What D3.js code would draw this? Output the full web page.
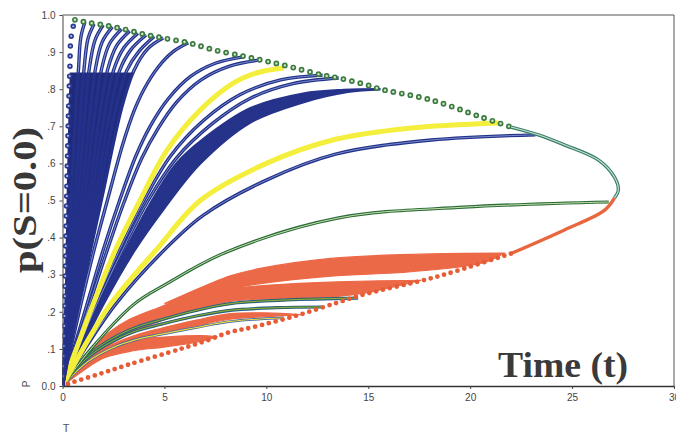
<!DOCTYPE html>
<html>
<head>
<meta charset="utf-8">
<script src="https://cdn.jsdelivr.net/npm/d3@7"></script>
<style>
  body { margin: 0; background: #fff; }
  svg { display: block; }
</style>
</head>
<body>
<div id="chart"></div>
<script>
// ---- data: [time, p] ----
const xTicks = [0, 5, 10, 15, 20, 25, 30];
const yTicks = [0, 0.1, 0.2, 0.3, 0.4, 0.5, 0.6, 0.7, 0.8, 0.9, 1.0];
const yTickLabels = ["0.0", ".1", ".2", ".3", ".4", ".5", ".6", ".7", ".8", ".9", "1.0"];

// envelope (upper dotted green part, solid bend, red dotted lower part)
const envTop = [[0.61,0.987],[1.1,0.981],[2.0,0.973],[3.0,0.962],[4.0,0.948],[4.94,0.938],[6.17,0.925],
  [7.5,0.905],[8.88,0.889],[9.71,0.879],[10.84,0.865],[12.76,0.838],[13.55,0.830],[14.96,0.811],
  [15.62,0.80],[18.08,0.771],[20.54,0.725],[22.0,0.698]];
const envBend = [[22.0,0.698],[23.34,0.677],[24.62,0.650],[26.3,0.609],[27.08,0.563],[27.27,0.528],[27.08,0.507]];
const envBendRed = [[27.08,0.507],[26.6,0.474],[24.6,0.42],[22.0,0.357]];
const envRed = [[22.0,0.357],[18.9,0.303],[17.7,0.285],[14.8,0.247],[13.5,0.225],[11.5,0.19],[9.3,0.158],
  [8.2,0.145],[7.1,0.123],[5.8,0.1],[3.2,0.057],[1.85,0.033],[0.5,0.01],[0,0]];

// blue fan of fast curves (first one is dotted)
const fanDotted = [[0,0],[0.1,0.22],[0.2,0.5],[0.3,0.75],[0.36,0.85],[0.42,0.94],[0.61,0.987]];
const fanCurves = [
  [[0,0],[0.18,0.22],[0.42,0.5],[0.65,0.75],[0.78,0.85],[0.9,0.94],[1.1,0.981]],
  [[0,0],[0.25,0.22],[0.6,0.5],[0.9,0.75],[1.05,0.85],[1.25,0.936],[1.55,0.976]],
  [[0,0],[0.32,0.22],[0.75,0.5],[1.12,0.75],[1.3,0.85],[1.6,0.933],[2.0,0.973]],
  [[0,0],[0.4,0.22],[0.92,0.5],[1.38,0.75],[1.6,0.85],[1.95,0.928],[2.45,0.968]],
  [[0,0],[0.47,0.22],[1.08,0.5],[1.62,0.75],[1.9,0.85],[2.3,0.922],[2.9,0.962]],
  [[0,0],[0.54,0.22],[1.25,0.5],[1.88,0.75],[2.2,0.85],[2.65,0.917],[3.3,0.957]],
  [[0,0],[0.6,0.22],[1.4,0.5],[2.12,0.75],[2.5,0.85],[3.0,0.911],[3.7,0.951]],
  [[0,0],[0.68,0.22],[1.57,0.5],[2.37,0.75],[2.8,0.85],[3.35,0.906],[4.1,0.946]],
  [[0,0],[0.74,0.22],[1.73,0.5],[2.62,0.75],[3.15,0.85],[3.75,0.902],[4.5,0.942]],
  [[0,0],[0.8,0.22],[1.9,0.5],[2.9,0.75],[3.5,0.85],[4.2,0.91],[4.94,0.938]]
];
// slower blue curves
const blueCurves = [
  [[0,0],[0.4,0.1],[0.9,0.22],[1.55,0.367],[2.2,0.5],[2.95,0.65],[3.5,0.74],[4.0,0.8],[4.7,0.86],[5.4,0.9],[6.17,0.925]],
  [[0,0],[0.55,0.1],[1.2,0.22],[2.0,0.367],[2.8,0.5],[3.6,0.62],[4.3,0.7],[5.2,0.775],[6.3,0.835],[7.5,0.87],[8.88,0.887]],
  [[0,0],[0.6,0.1],[1.32,0.22],[2.2,0.367],[3.05,0.5],[3.9,0.615],[4.7,0.695],[5.6,0.765],[6.8,0.825],[8.2,0.862],[9.71,0.879]],
  [[0,0],[0.72,0.1],[1.6,0.22],[2.8,0.367],[4.0,0.5],[5.3,0.62],[6.9,0.715],[8.7,0.785],[10.7,0.825],[12.76,0.838]],
  [[0,0],[0.75,0.1],[1.68,0.22],[2.95,0.367],[4.2,0.5],[5.6,0.615],[7.3,0.705],[9.2,0.775],[11.3,0.815],[13.55,0.83]],
  [[0,0],[1.1,0.1],[2.6,0.22],[5.0,0.367],[6.9,0.46],[10,0.555],[13.4,0.625],[18.1,0.663],[23.2,0.677]]
];
const blueBandUpper = [[0,0],[0.78,0.1],[1.75,0.22],[3.1,0.367],[4.4,0.5],[5.6,0.6],[6.9,0.665],[9.2,0.748],[11.8,0.788],[13.8,0.798],[15.6,0.80]];
const blueBandLower = [[0,0],[0.9,0.1],[2.0,0.22],[3.55,0.367],[5.0,0.48],[6.76,0.6],[9.2,0.71],[11.8,0.765],[14,0.793],[15.6,0.80]];
const yellowCurves = [
  [[0,0],[0.68,0.1],[1.5,0.22],[2.6,0.367],[3.8,0.5],[5.13,0.636],[6.76,0.744],[8.4,0.817],[9.6,0.845],[10.85,0.857]],
  [[0,0],[1.0,0.1],[2.35,0.22],[4.6,0.367],[6.76,0.5],[10,0.6],[13.4,0.665],[17,0.695],[21.4,0.709]]
];
const greenCurve = [[0,0],[1.4,0.1],[3.5,0.22],[5.1,0.275],[8,0.36],[13.55,0.453],[19.7,0.482],[26.8,0.496]];

// red tongues: [upper, lower]
const redMain = [
  [[0,0],[1.3,0.095],[2.3,0.145],[3.2,0.177],[4.8,0.213],[5.6,0.23],[8.23,0.262],[13.15,0.28],[17.6,0.285]],
  [[0,0],[1.0,0.055],[2.3,0.11],[3.47,0.145],[4.8,0.175],[6.5,0.205],[8.23,0.228],[10.5,0.236],[13.15,0.24],[14.8,0.25],[17.6,0.285]]
];
const redTop = [
  [[5.0,0.222],[7.25,0.276],[8.23,0.297],[9.7,0.317],[13.15,0.344],[18.06,0.356],[21.65,0.358]],
  [[5.0,0.222],[7.25,0.25],[8.23,0.262],[9.7,0.276],[13.15,0.296],[17.1,0.308],[20.7,0.333],[21.65,0.358]]
];
const redMid = [
  [[0,0],[1.2,0.07],[2.5,0.113],[3.6,0.137],[4.8,0.155],[6.5,0.177],[8.23,0.195],[10,0.197],[11.7,0.192]],
  [[0,0],[1.2,0.066],[2.5,0.108],[3.6,0.128],[4.8,0.143],[6.5,0.162],[8.23,0.18],[10,0.187],[11.7,0.192]]
];
const redLow = [
  [[0,0],[1.0,0.065],[2.0,0.1],[3.47,0.124],[5,0.132],[6.76,0.136],[7.6,0.133]],
  [[0,0],[0.86,0.035],[2.0,0.075],[3.47,0.095],[5,0.105],[6.76,0.12],[7.6,0.133]]
];
const greenThin = [
  [[0,0],[1.2,0.08],[2.5,0.13],[3.6,0.158],[4.8,0.178],[6.5,0.203],[8.23,0.222],[11,0.232],[14.5,0.237]],
  [[0,0],[1.2,0.075],[2.5,0.122],[3.6,0.148],[4.8,0.166],[6.5,0.188],[8.23,0.204],[10.5,0.211],[12.7,0.213]]
];
const yellowThin = [[0,0],[1.2,0.064],[2.5,0.104],[3.6,0.125],[4.8,0.139],[6.5,0.157],[8.23,0.174],[10.85,0.184]];

// ---- drawing ----
const width = 676, height = 433;
const svg = d3.select("#chart").append("svg")
    .attr("width", width)
    .attr("height", height);

const x = d3.scaleLinear().domain([0, 30]).range([62.5, 674]);
const y = d3.scaleLinear().domain([0, 1]).range([386, 15]);

const line = d3.line()
    .x(d => x(d[0]))
    .y(d => y(d[1]))
    .curve(d3.curveCatmullRom.alpha(0.5));

function tongue(upper, lower) {
    return line(upper) + line(lower.slice().reverse()).replace("M", "L") + "Z";
}

const defs = svg.append("defs");
defs.append("clipPath").attr("id", "plot").append("rect")
    .attr("x", x(0)).attr("y", y(1))
    .attr("width", x(30) - x(0)).attr("height", y(0) - y(1));
defs.append("clipPath").attr("id", "low").append("rect")
    .attr("x", x(0)).attr("y", y(0.845))
    .attr("width", x(30) - x(0)).attr("height", y(0) - y(0.845));
defs.append("clipPath").attr("id", "high").append("rect")
    .attr("x", x(0)).attr("y", y(1))
    .attr("width", x(30) - x(0)).attr("height", y(0.845) - y(1));

const plot = svg.append("g").attr("clip-path", "url(#plot)");

// red tongues
const red = "#ec6947";
[redMain, redTop, redMid, redLow].forEach(b => {
    plot.append("path").attr("d", tongue(b[0], b[1])).attr("fill", red)
        .attr("stroke", red).attr("stroke-width", 1.2);
});

// thin lines among red
greenThin.forEach(c => {
    plot.append("path").attr("d", line(c)).attr("fill", "none")
        .attr("stroke", "#2f5fa0").attr("stroke-width", 3.2);
    plot.append("path").attr("d", line(c)).attr("fill", "none")
        .attr("stroke", "#2f6b35").attr("stroke-width", 2);
    plot.append("path").attr("d", line(c)).attr("fill", "none")
        .attr("stroke", "#d9dd55").attr("stroke-width", 0.6);
});
plot.append("path").attr("d", line(yellowThin)).attr("fill", "none")
    .attr("stroke", "#3558a8").attr("stroke-width", 2.6);
plot.append("path").attr("d", line(yellowThin)).attr("fill", "none")
    .attr("stroke", "#eadf3c").attr("stroke-width", 1.2);

// green main curve
plot.append("path").attr("d", line(greenCurve)).attr("fill", "none")
    .attr("stroke", "#2c6a3c").attr("stroke-width", 3.2);
plot.append("path").attr("d", line(greenCurve)).attr("fill", "none")
    .attr("stroke", "#c4e2a6").attr("stroke-width", 1);

// blue band
plot.append("path").attr("d", tongue(blueBandUpper, blueBandLower)).attr("fill", "#26338a")
    .attr("stroke", "#26338a").attr("stroke-width", 2.5);

// blue curves
const blueDark = "#24318a", blueLight = "#8ea4dc";
blueCurves.forEach(c => {
    plot.append("path").attr("d", line(c)).attr("fill", "none")
        .attr("stroke", blueDark).attr("stroke-width", 3.4);
    plot.append("path").attr("d", line(c)).attr("fill", "none")
        .attr("stroke", blueLight).attr("stroke-width", 0.8);
});

// yellow curves
yellowCurves.forEach(c => {
    plot.append("path").attr("d", line(c)).attr("fill", "none")
        .attr("stroke", "#f4ef3c").attr("stroke-width", 5);
});

// dense blue fan fill
const fanLast = fanCurves[fanCurves.length - 1];
plot.append("g").attr("clip-path", "url(#low)")
  .append("path").attr("d", tongue(fanDotted, fanLast)).attr("fill", "#1f2b7a");

fanCurves.forEach(c => {
    plot.append("path").attr("d", line(c)).attr("fill", "none")
        .attr("stroke", blueDark).attr("stroke-width", 3.4);
    plot.append("g").attr("clip-path", "url(#high)")
      .append("path").attr("d", line(c)).attr("fill", "none")
        .attr("stroke", blueLight).attr("stroke-width", 0.9);
});

// dotted first curve (hollow blue circles)
plot.append("path").attr("d", line(fanDotted)).attr("fill", "none")
    .attr("stroke", "#2a3892").attr("stroke-width", 5.5)
    .attr("stroke-linecap", "round").attr("stroke-dasharray", "0 10");
plot.append("path").attr("d", line(fanDotted)).attr("fill", "none")
    .attr("stroke", "#a9b9e6").attr("stroke-width", 2.2)
    .attr("stroke-linecap", "round").attr("stroke-dasharray", "0 10");

// envelope: green hollow circles
plot.append("path").attr("d", line(envTop)).attr("fill", "none")
    .attr("stroke", "#3c7a44").attr("stroke-width", 5.8)
    .attr("stroke-linecap", "round").attr("stroke-dasharray", "0 8.6");
plot.append("path").attr("d", line(envTop)).attr("fill", "none")
    .attr("stroke", "#d6ebbf").attr("stroke-width", 2.4)
    .attr("stroke-linecap", "round").attr("stroke-dasharray", "0 8.6");

// envelope bend (dense, looks solid)
plot.append("path").attr("d", line(envBend)).attr("fill", "none")
    .attr("stroke", "#3b7c6a").attr("stroke-width", 3.4);
plot.append("path").attr("d", line(envBend)).attr("fill", "none")
    .attr("stroke", "#c3e4d2").attr("stroke-width", 1.1);
plot.append("path").attr("d", line(envBendRed)).attr("fill", "none")
    .attr("stroke", "#e8673f").attr("stroke-width", 3.4);

// envelope: red dots
plot.append("path").attr("d", line(envRed)).attr("fill", "none")
    .attr("stroke", "#e65c36").attr("stroke-width", 4.8)
    .attr("stroke-linecap", "round").attr("stroke-dasharray", "0 7");

// ---- axes and frame ----
const axisFont = "'Liberation Sans', Arial, sans-serif";

const yAxis = svg.append("g")
    .attr("transform", `translate(${x(0)},0)`)
    .call(d3.axisLeft(y).tickValues(yTicks).tickFormat((d, i) => yTickLabels[i])
        .tickSize(3).tickSizeOuter(0).tickPadding(4));
yAxis.selectAll("text").style("font-family", axisFont).style("font-size", "10px").attr("fill", "#444");
yAxis.selectAll("line, path").attr("stroke", "#444");

const xAxis = svg.append("g")
    .attr("transform", `translate(0,${y(0)})`)
    .call(d3.axisBottom(x).tickValues(xTicks).tickFormat(d3.format("d"))
        .tickSize(3).tickSizeOuter(0).tickPadding(5));
xAxis.selectAll("text").style("font-family", axisFont).style("font-size", "10px").attr("fill", "#444");
xAxis.selectAll("line").attr("stroke", "#444");
xAxis.select("path").attr("stroke", "#333").attr("stroke-width", 1.6);

// top and right frame
svg.append("line")
    .attr("x1", x(0)).attr("x2", x(30)).attr("y1", y(1)).attr("y2", y(1))
    .attr("stroke", "#555").attr("stroke-width", 1);
svg.append("line")
    .attr("x1", x(30)).attr("x2", x(30)).attr("y1", y(1)).attr("y2", y(0))
    .attr("stroke", "#555").attr("stroke-width", 1);

// titles
svg.append("text")
    .attr("transform", "translate(36,200) rotate(-90)")
    .attr("text-anchor", "middle")
    .attr("textLength", 146).attr("lengthAdjust", "spacingAndGlyphs")
    .style("font-family", "'Liberation Serif', 'Times New Roman', serif")
    .style("font-weight", "bold").style("font-size", "33px")
    .attr("fill", "#383838")
    .text("p(S=0.0)");

svg.append("text")
    .attr("x", 498).attr("y", 377)
    .attr("textLength", 130).attr("lengthAdjust", "spacingAndGlyphs")
    .style("font-family", "'Liberation Serif', 'Times New Roman', serif")
    .style("font-weight", "bold").style("font-size", "36px")
    .attr("fill", "#3a3a3a")
    .text("Time (t)");

svg.append("text")
    .attr("transform", "translate(30,384) rotate(-90)")
    .attr("text-anchor", "middle")
    .style("font-family", axisFont).style("font-size", "10px")
    .attr("fill", "#555")
    .text("P");

svg.append("text")
    .attr("x", 66).attr("y", 432)
    .attr("text-anchor", "middle")
    .style("font-family", axisFont).style("font-size", "11px")
    .attr("fill", "#555")
    .text("T");
</script>
</body>
</html>
